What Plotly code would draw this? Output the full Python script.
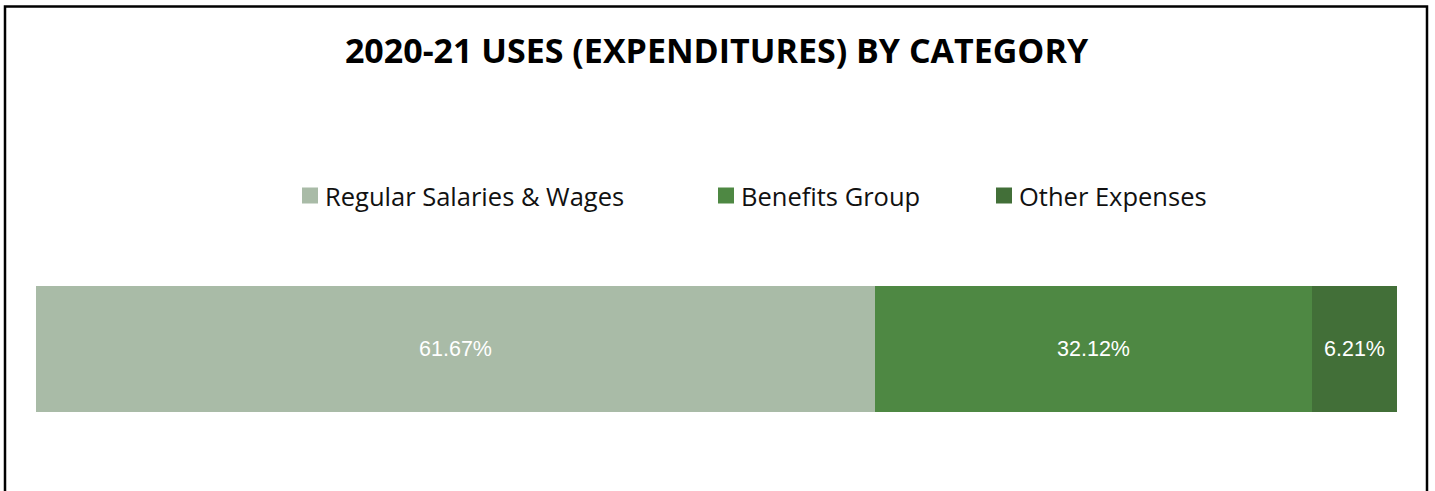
import plotly.graph_objects as go

# Share of 2020-21 expenditures by category (percent)
categories = ["Regular Salaries & Wages", "Benefits Group", "Other Expenses"]
shares = [61.67, 32.12, 6.21]
colors = ["#A9BBA7", "#4E8843", "#426F38"]

W, H = 1435, 491
L, R, T, B = 36, 1397, 286, 412  # plot-area pixel box

fig = go.Figure()
for name, val, col in zip(categories, shares, colors):
    fig.add_trace(go.Bar(
        x=[val], y=[""], orientation="h", name=name,
        marker=dict(color=col, line=dict(width=0)),
        text=[val], texttemplate="%{text:.2f}%",
        textposition="inside", insidetextanchor="middle",
        textfont=dict(family="Liberation Sans, Arial", size=21.5, color="white"),
        hoverinfo="skip", showlegend=False,
    ))

def px_x(p):
    return (p - L) / (R - L)

def px_y(p):
    return (B - p) / (B - T)

shapes = [dict(type="rect", xref="paper", yref="paper",
               x0=px_x(5), x1=px_x(1427), y0=px_y(520), y1=px_y(6.5),
               line=dict(color="black", width=2.5), fillcolor="rgba(0,0,0,0)", layer="above")]
annotations = []

# Hand-placed legend row
legend_x = [302, 718, 996]
legend_y = 195.5
for name, col, lx in zip(categories, colors, legend_x):
    shapes.append(dict(type="rect", xref="paper", yref="paper",
                       xsizemode="pixel", ysizemode="pixel",
                       xanchor=px_x(lx), yanchor=px_y(legend_y),
                       x0=0, x1=16, y0=-8, y1=8,
                       fillcolor=col, line=dict(width=0)))
    annotations.append(dict(xref="paper", yref="paper", x=px_x(lx + 21), y=px_y(legend_y),
                            xanchor="left", yanchor="middle", showarrow=False, text=name,
                            font=dict(family="Open Sans", size=25.5, color="#111111")))

fig.update_layout(
    width=W, height=H,
    margin=dict(l=L, r=W - R, t=T, b=H - B, pad=0),
    paper_bgcolor="white", plot_bgcolor="white",
    barmode="stack", bargap=0,
    title=dict(text="<b>2020-21 USES (EXPENDITURES) BY CATEGORY</b>",
               x=0.5, xref="paper", xanchor="center",
               y=1 - 51 / H, yref="container", yanchor="middle",
               font=dict(family="Open Sans", size=34, color="black")),
    xaxis=dict(range=[0, 100], visible=False, fixedrange=True),
    yaxis=dict(range=[-0.5, 0.5], visible=False, fixedrange=True),
    shapes=shapes, annotations=annotations,
    uniformtext=dict(mode=False),
)

fig.write_html("out.html", config={"displayModeBar": False})
